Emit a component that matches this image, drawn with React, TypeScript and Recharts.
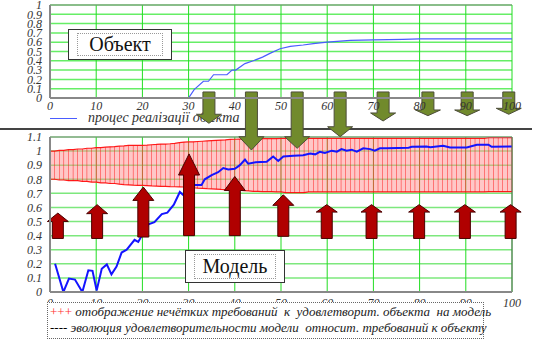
import React from 'react';
import { ComposedChart, Line, Area, Bar, XAxis, YAxis, CartesianGrid, ReferenceLine } from 'recharts';

const xTicks = [0, 10, 20, 30, 40, 50, 60, 70, 80, 90, 100];
const objTicks = [0, 0.1, 0.2, 0.3, 0.4, 0.5, 0.6, 0.7, 0.8, 0.9, 1];
const modelTicks = [0, 0.1, 0.2, 0.3, 0.4, 0.5, 0.6, 0.7, 0.8, 0.9, 1, 1.1];

// object realisation curve (top chart)
const objX = [30, 31.2, 33.2, 34.3, 35.4, 38.3, 39.4, 40.2, 42.2, 44, 46, 47.6, 49.8, 52, 54.8, 57, 60, 65, 70, 76.4, 80, 90, 100];
const objV = [0, 0.09, 0.18, 0.18, 0.25, 0.25, 0.3, 0.3, 0.37, 0.4, 0.44, 0.48, 0.53, 0.555, 0.57, 0.585, 0.6, 0.62, 0.625, 0.63, 0.635, 0.635, 0.635];

// model satisfaction curve (bottom chart)
const modelX = [1.1, 2.9, 4.1, 5.4, 7, 8.3, 9.2, 10.1, 11.2, 12.3, 13.3, 14.4, 15.5, 16.6, 18.3, 19.1, 20.2, 21.3, 22.6, 24.2, 25.4, 26.8, 28.1, 28.9, 30.2, 31.4, 32.8, 33.5, 35, 36.4, 37.5, 38.6, 40, 41.1, 42.2, 42.9, 44.5, 46.9, 48.3, 49.4, 50.5, 52.7, 54.8, 56.3, 57.4, 58.4, 59.5, 61, 62.1, 63.1, 64.2, 65.3, 66.4, 67.8, 69.3, 70.3, 71.4, 72.9, 77.6, 78.3, 81.5, 82.3, 85.1, 86.6, 90.2, 92.4, 94.9, 95.6, 100];
const modelV = [0.2, 0, 0.095, 0.088, 0, 0.154, 0.15, 0.01, 0.165, 0.196, 0.125, 0.18, 0.28, 0.3, 0.37, 0.355, 0.42, 0.48, 0.495, 0.553, 0.563, 0.62, 0.71, 0.686, 0.74, 0.76, 0.76, 0.8, 0.83, 0.85, 0.88, 0.87, 0.875, 0.9, 0.94, 0.91, 0.92, 0.925, 0.962, 0.93, 0.962, 0.967, 0.97, 0.983, 0.977, 0.995, 0.986, 1.003, 0.996, 1.014, 1.003, 1.01, 0.996, 1.02, 1.014, 1.003, 1.02, 1.02, 1.024, 1.03, 1.033, 1.028, 1.038, 1.026, 1.026, 1.045, 1.045, 1.03, 1.033];

// fuzzy requirements band, one hatch line per unit 0..100
const bandHi = [
  1.0, 1.0, 1.005, 1.005, 1.01, 1.01, 1.015, 1.015, 1.02, 1.02,
  1.024, 1.025, 1.028, 1.03, 1.032, 1.035, 1.037, 1.04, 1.04, 1.04,
  1.04, 1.042, 1.045, 1.047, 1.05, 1.05, 1.052, 1.055, 1.06, 1.064,
  1.065, 1.066, 1.068, 1.07, 1.072, 1.074, 1.076, 1.078, 1.08, 1.083,
  1.084, 1.085, 1.086, 1.087, 1.087, 1.088, 1.088, 1.088, 1.089, 1.089,
  1.09, 1.09, 1.09, 1.09, 1.09, 1.09, 1.09, 1.09, 1.09, 1.09,
  1.09, 1.09, 1.09, 1.09, 1.09, 1.09, 1.09, 1.09, 1.09, 1.09,
  1.09, 1.09, 1.09, 1.09, 1.09, 1.09, 1.09, 1.09, 1.09, 1.09,
  1.09, 1.09, 1.09, 1.09, 1.09, 1.09, 1.09, 1.09, 1.09, 1.09,
  1.09, 1.09, 1.09, 1.09, 1.09, 1.095, 1.095, 1.095, 1.095, 1.095,
  1.095,
];
const bandLo = [
  0.8, 0.8, 0.795, 0.795, 0.79, 0.79, 0.79, 0.785, 0.785, 0.78,
  0.78, 0.775, 0.775, 0.77, 0.77, 0.765, 0.762, 0.76, 0.758, 0.757,
  0.757, 0.755, 0.753, 0.752, 0.75, 0.75, 0.748, 0.747, 0.746, 0.745,
  0.745, 0.74, 0.737, 0.735, 0.733, 0.732, 0.73, 0.728, 0.727, 0.726,
  0.726, 0.722, 0.72, 0.717, 0.714, 0.714, 0.713, 0.712, 0.712, 0.71,
  0.71, 0.705, 0.705, 0.705, 0.705, 0.705, 0.71, 0.71, 0.71, 0.71,
  0.71, 0.71, 0.71, 0.71, 0.71, 0.71, 0.71, 0.71, 0.71, 0.71,
  0.71, 0.71, 0.71, 0.71, 0.71, 0.71, 0.71, 0.71, 0.71, 0.71,
  0.71, 0.71, 0.71, 0.71, 0.71, 0.71, 0.71, 0.71, 0.71, 0.71,
  0.71, 0.71, 0.71, 0.71, 0.71, 0.712, 0.712, 0.712, 0.712, 0.712,
  0.712,
];

// red up arrows (bottom chart units)
const redX = [1.7, 10.2, 20.2, 30.1, 40, 50.5, 59.9, 69.6, 79.9, 89.8, 99.7];
const redTip = [0.56, 0.62, 0.745, 0.98, 0.82, 0.69, 0.62, 0.62, 0.62, 0.62, 0.62];
const redBase = [0.5, 0.556, 0.65, 0.83, 0.72, 0.615, 0.567, 0.567, 0.567, 0.567, 0.567];
const redFoot = [0.38, 0.38, 0.39, 0.4, 0.4, 0.395, 0.38, 0.38, 0.38, 0.38, 0.38];

// green down arrows (top chart units, run below the axis)
const greenX = [34.4, 43.6, 53.5, 62.8, 72.1, 81.8, 90.3, 99.3];
const greenTop = [0.065, 0.065, 0.065, 0.065, 0.065, 0.065, 0.065, 0.065];
const greenBase = [-0.175, -0.416, -0.416, -0.309, -0.161, -0.129, -0.129, -0.111];
const greenTip = [-0.272, -0.559, -0.541, -0.416, -0.247, -0.19, -0.19, -0.175];

const objData = objX.map((x, i) => ({ x, v: objV[i] }));
const modelData = modelX.map((x, i) => ({ x, v: modelV[i] }));
const bandData = bandHi.map((hi, i) => ({ x: i, hi, lo: bandLo[i] }));

const serif = "'Liberation Serif', 'Times New Roman', serif";
const tickStyle = { fontFamily: serif, fontStyle: 'italic', fontSize: 12, fill: '#333' };
const fmt = (v: number) => String(Math.round(v * 10) / 10);

const arrowShape = (frac: number, shaftW: number, headW: number, fill: string, stroke: string) => (p: any) => {
  const { x1, y1, y2 } = p;
  const yb = y1 + (y2 - y1) * frac;
  const s = shaftW / 2;
  const h = headW / 2;
  const pts = [
    [x1 - s, y1], [x1 - s, yb], [x1 - h, yb], [x1, y2], [x1 + h, yb], [x1 + s, yb], [x1 + s, y1],
  ].map((q) => q.join(',')).join(' ');
  return <polygon points={pts} fill={fill} stroke={stroke} strokeWidth={1} />;
};

const Box = ({ left, top, width, height, text }: any) => (
  <div style={{ position: 'absolute', left, top, width, height, background: '#fff', border: '1px solid #333', boxSizing: 'border-box' }}>
    <div style={{ position: 'absolute', left: 8, top: 3, right: 8, bottom: 3, border: '1px dotted #999', display: 'flex', alignItems: 'center', justifyContent: 'center', fontFamily: serif, fontSize: 20, color: '#111' }}>
      {text}
    </div>
  </div>
);

export default function App() {
  return (
    <div style={{ position: 'absolute', left: 0, top: 0, width: 539, height: 343, background: '#fff', overflow: 'hidden' }}>
      {/* bottom chart: model */}
      <div style={{ position: 'absolute', left: 0, top: 125 }}>
        <ComposedChart width={539} height={200} data={bandData} margin={{ top: 12, right: 27, bottom: 13, left: 0 }}>
          <CartesianGrid vertical={false} stroke="#7de87d" strokeWidth={1.5} />
          <CartesianGrid horizontal={false} stroke="#22dd22" strokeWidth={1} />
          <XAxis dataKey="x" type="number" domain={[0, 100]} ticks={xTicks} interval={0} height={20}
            tickLine={false} tickSize={0} tickMargin={6} axisLine={{ stroke: '#888', strokeWidth: 2 }} tick={tickStyle} />
          <YAxis type="number" domain={[0, 1.1]} ticks={modelTicks} interval={0} width={50} allowDataOverflow
            tickLine={false} tickSize={0} tickMargin={8} tickFormatter={fmt} axisLine={{ stroke: '#888', strokeWidth: 2 }} tick={tickStyle} />
          <Area dataKey={(d: any) => [d.lo, d.hi]} type="linear" stroke="#ff1a1a" strokeWidth={1.2} fill="#ff9090" fillOpacity={0.5} isAnimationActive={false} />
          <Bar dataKey={(d: any) => [d.lo, d.hi]} barSize={1.5} fill="#ff0000" isAnimationActive={false} />
          <Line data={modelData} dataKey="v" type="linear" stroke="#1414ff" strokeWidth={2} dot={false} isAnimationActive={false} />
          <ReferenceLine y={1.1} stroke="#888" strokeWidth={1} />
          <ReferenceLine x={100} stroke="#666" strokeWidth={1} />
          {redX.map((x, i) => (
            <ReferenceLine key={'r' + i} ifOverflow="visible"
              segment={[{ x, y: redFoot[i] }, { x, y: redTip[i] }]}
              shape={arrowShape((redBase[i] - redFoot[i]) / (redTip[i] - redFoot[i]), 11, 21, '#b00000', '#4a0000')} />
          ))}
        </ComposedChart>
      </div>

      <Box left={185} top={250} width={100} height={33} text="Модель" />

      {/* bottom legend */}
      <div style={{ position: 'absolute', left: 47, top: 302, width: 437, height: 37, background: '#fff', border: '1px dotted #666', boxSizing: 'border-box', fontFamily: serif, fontStyle: 'italic', fontSize: 13, color: '#222', lineHeight: '16px', padding: '1px 0 0 2px', whiteSpace: 'nowrap' }}>
        <div><span style={{ color: '#ff3030', fontStyle: 'normal' }}>+++</span> отображение нечётких требований&nbsp; к&nbsp; удовлетворит. объекта&nbsp; на модель</div>
        <div><span style={{ color: '#000', fontStyle: 'normal' }}>----</span> эволюция удовлетворительности модели&nbsp; относит. требований к объекту</div>
      </div>

      {/* separator */}
      <div style={{ position: 'absolute', left: 0, top: 128, width: 532, height: 2, background: '#444' }} />

      {/* top legend */}
      <div style={{ position: 'absolute', left: 50, top: 118, width: 27, height: 1, background: '#4a5cff' }} />
      <div style={{ position: 'absolute', left: 88, top: 110, fontFamily: serif, fontStyle: 'italic', fontSize: 14, color: '#333', whiteSpace: 'nowrap' }}>
        процес реалізації об'єкта
      </div>

      {/* top chart: object */}
      <div style={{ position: 'absolute', left: 0, top: 0 }}>
        <ComposedChart width={539} height={160} data={objData} margin={{ top: 5, right: 27, bottom: 32, left: 0 }}>
          <CartesianGrid vertical={false} stroke="#66ee66" strokeWidth={1.5} />
          <CartesianGrid horizontal={false} stroke="#22dd22" strokeWidth={1} />
          <XAxis dataKey="x" type="number" domain={[0, 100]} ticks={xTicks} interval={0} height={30}
            tickLine={false} tickSize={0} tickMargin={3} axisLine={{ stroke: '#888', strokeWidth: 2 }} tick={tickStyle} />
          <YAxis type="number" domain={[0, 1]} ticks={objTicks} interval={0} width={50} allowDataOverflow
            tickLine={false} tickSize={0} tickMargin={8} tickFormatter={fmt} axisLine={{ stroke: '#888', strokeWidth: 2 }} tick={tickStyle} />
          <Line dataKey="v" type="linear" stroke="#4a5cff" strokeWidth={1.2} dot={false} isAnimationActive={false} />
          <ReferenceLine y={1} stroke="#888" strokeWidth={1} />
          {greenX.map((x, i) => (
            <ReferenceLine key={'g' + i} ifOverflow="visible"
              segment={[{ x, y: greenTop[i] }, { x, y: greenTip[i] }]}
              shape={arrowShape((greenBase[i] - greenTop[i]) / (greenTip[i] - greenTop[i]), 12, 25, '#718a2c', '#4d4d3a')} />
          ))}
        </ComposedChart>
      </div>

      <Box left={68} top={29} width={104} height={31} text="Объект" />
    </div>
  );
}
